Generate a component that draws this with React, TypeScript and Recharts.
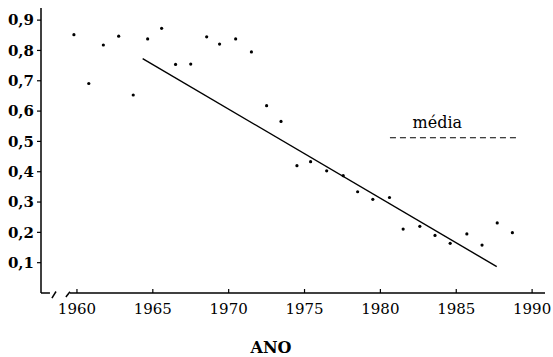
import React from "react";
import {
    ComposedChart,
    Scatter,
    Line,
    XAxis,
    YAxis,
    ReferenceLine,
    ReferenceDot,
} from "recharts";

// annual points (year position)
const years = [
    1959.8, 1960.78, 1961.74, 1962.75, 1963.71, 1964.66, 1965.58, 1966.5,
    1967.5, 1968.55, 1969.4, 1970.46, 1971.5, 1972.5, 1973.45, 1974.5, 1975.4,
    1976.46, 1977.55, 1978.5, 1979.5, 1980.6, 1981.5, 1982.6, 1983.6, 1984.6,
    1985.7, 1986.7, 1987.7, 1988.7,
];
const values = [
    0.852, 0.691, 0.818, 0.847, 0.653, 0.838, 0.873, 0.754, 0.755, 0.845,
    0.821, 0.838, 0.795, 0.618, 0.566, 0.42, 0.433, 0.403, 0.387, 0.334, 0.309,
    0.315, 0.211, 0.22, 0.19, 0.164, 0.195, 0.158, 0.231, 0.199,
];

// trend line
const fitYears = [1964.33, 1987.67];
const fitValues = [0.773, 0.087];

// "média" dashed line
const mediaYears = [1980.63, 1989];
const mediaValue = 0.512;

const xTicks = [1960, 1965, 1970, 1975, 1980, 1985, 1990];
const yTicks = [0.1, 0.2, 0.3, 0.4, 0.5, 0.6, 0.7, 0.8, 0.9];

const points = years.map((x, i) => ({ x, y: values[i] }));
const fitData = fitYears.map((x, i) => ({ x, y: fitValues[i] }));
const mediaData = mediaYears.map((x) => ({ x, y: mediaValue }));

const X_MIN = 1957.63;
const X_MAX = 1990.85;
const serif = "DejaVu Serif";

const Dot = (props: any) => (
    <circle cx={props.cx} cy={props.cy} r={1.6} fill="#000" />
);

export default function App() {
    return (
        <div style={{ position: "absolute", left: 0, top: 0, background: "#fff" }}>
            <ComposedChart
                width={553}
                height={357}
                margin={{ top: 8, right: 8, left: 0, bottom: 0 }}
            >
                <XAxis
                    type="number"
                    dataKey="x"
                    domain={[X_MIN, X_MAX]}
                    ticks={xTicks}
                    allowDataOverflow
                    axisLine={false}
                    tickLine={{ stroke: "#000", strokeWidth: 1.2 }}
                    tickSize={-4}
                    tickMargin={14}
                    height={64}
                    tick={{ fill: "#000", fontFamily: serif, fontSize: 15 }}
                    label={{
                        value: "ANO",
                        position: "insideBottom",
                        offset: 4,
                        dx: -22,
                        fill: "#000",
                        fontFamily: serif,
                        fontSize: 16,
                        fontWeight: "bold",
                    }}
                />
                <YAxis
                    type="number"
                    dataKey="y"
                    domain={[0, 0.94]}
                    ticks={yTicks}
                    allowDataOverflow
                    width={41}
                    axisLine={{ stroke: "#000", strokeWidth: 1.5 }}
                    tickLine={{ stroke: "#000", strokeWidth: 1.2 }}
                    tickSize={4}
                    tickMargin={3}
                    tick={{
                        fill: "#000",
                        fontFamily: serif,
                        fontSize: 15,
                        fontWeight: "bold",
                    }}
                    tickFormatter={(v: number) => v.toFixed(1).replace(".", ",")}
                />

                {/* x axis line with break */}
                <ReferenceLine
                    segment={[
                        { x: X_MIN, y: 0 },
                        { x: 1958.22, y: 0 },
                    ]}
                    stroke="#000"
                    strokeWidth={1.5}
                    ifOverflow="visible"
                />
                <ReferenceLine
                    segment={[
                        { x: 1959.54, y: 0 },
                        { x: X_MAX, y: 0 },
                    ]}
                    stroke="#000"
                    strokeWidth={1.5}
                    ifOverflow="visible"
                />
                <ReferenceLine
                    segment={[
                        { x: 1958.35, y: -0.017 },
                        { x: 1958.62, y: 0.005 },
                    ]}
                    stroke="#000"
                    strokeWidth={1.5}
                    ifOverflow="visible"
                />
                <ReferenceLine
                    segment={[
                        { x: 1959.27, y: -0.013 },
                        { x: 1959.54, y: 0.004 },
                    ]}
                    stroke="#000"
                    strokeWidth={1.5}
                    ifOverflow="visible"
                />

                <Line
                    data={fitData}
                    dataKey="y"
                    stroke="#000"
                    strokeWidth={1.4}
                    dot={false}
                    activeDot={false}
                    isAnimationActive={false}
                />
                <Line
                    data={mediaData}
                    dataKey="y"
                    stroke="#000"
                    strokeWidth={1.2}
                    strokeDasharray="6 4"
                    dot={false}
                    activeDot={false}
                    isAnimationActive={false}
                />
                <Scatter
                    data={points}
                    dataKey="y"
                    shape={Dot}
                    isAnimationActive={false}
                />
                <ReferenceDot
                    x={1983.75}
                    y={0.544}
                    ifOverflow="visible"
                    shape={(p: any) => (
                        <text
                            x={p.cx}
                            y={p.cy}
                            textAnchor="middle"
                            fontFamily={serif}
                            fontSize={16}
                            fill="#000"
                        >
                            média
                        </text>
                    )}
                />
            </ComposedChart>
        </div>
    );
}
